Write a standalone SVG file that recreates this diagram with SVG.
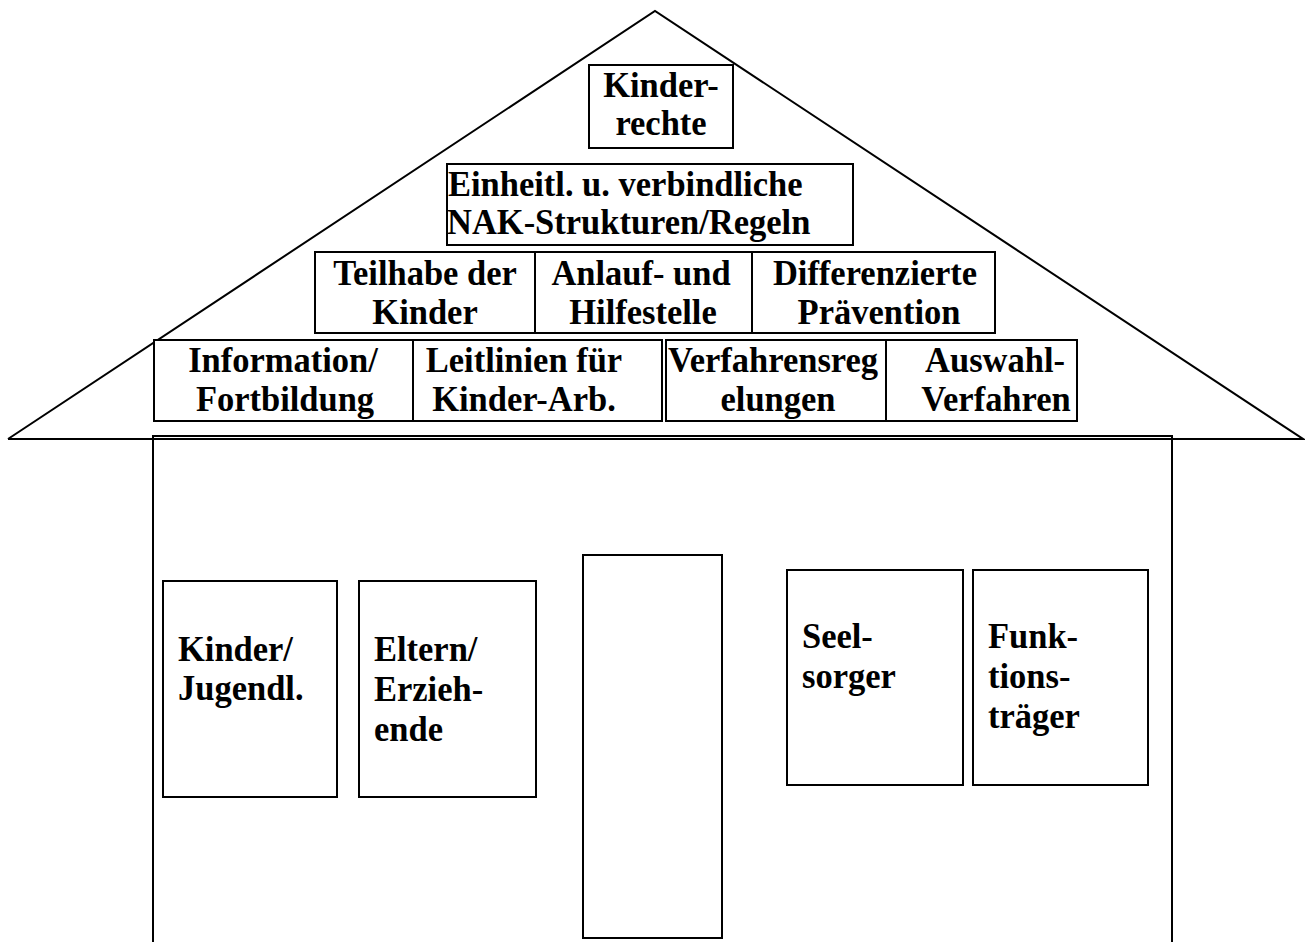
<svg xmlns="http://www.w3.org/2000/svg" width="1305" height="942" viewBox="0 0 1305 942">
<style>
.box{fill:#fff;stroke:#000;stroke-width:2}
.ln{fill:none;stroke:#000;stroke-width:2}
text{font-family:"Liberation Serif","Times New Roman",serif;font-weight:bold;font-size:36.5px;fill:#000}
.c{text-anchor:middle}
</style>
<rect width="1305" height="942" fill="#fff"/>
<g id="roof">
<polyline class="ln" points="8,439 655,11 1303,439 8,439"/>
</g>
<g id="house">
<polyline class="ln" points="153,942 153,436 1172,436 1172,942"/>
</g>
<g id="connectors"></g>
<g id="kinderrechte">
<rect class="box" x="589" y="65" width="144" height="83"/>
<text class="c" transform="translate(661,97) scale(0.945,1)">Kinder-</text>
<text class="c" transform="translate(661,135) scale(0.945,1)">rechte</text>
</g>
<g id="einheitl">
<rect class="box" x="447" y="164" width="406" height="81"/>
<text transform="translate(448,196) scale(0.945,1)">Einheitl. u. verbindliche</text>
<text transform="translate(447,234) scale(0.945,1)">NAK-Strukturen/Regeln</text>
</g>
<g id="teilhabe">
<rect class="box" x="315" y="252" width="220" height="81"/>
<text class="c" transform="translate(425,285) scale(0.945,1)">Teilhabe der</text>
<text class="c" transform="translate(425,324) scale(0.945,1)">Kinder</text>
</g>
<g id="anlauf">
<rect class="box" x="535" y="252" width="217" height="81"/>
<text class="c" transform="translate(641,285) scale(0.945,1)">Anlauf- und</text>
<text class="c" transform="translate(643,324) scale(0.945,1)">Hilfestelle</text>
</g>
<g id="praevention">
<rect class="box" x="752" y="252" width="243" height="81"/>
<text class="c" transform="translate(875,285) scale(0.945,1)">Differenzierte</text>
<text class="c" transform="translate(879,324) scale(0.945,1)">Prävention</text>
</g>
<g id="information">
<rect class="box" x="154" y="340" width="259" height="81"/>
<text class="c" transform="translate(283,372) scale(0.945,1)">Information/</text>
<text class="c" transform="translate(285,411) scale(0.945,1)">Fortbildung</text>
</g>
<g id="leitlinien">
<rect class="box" x="413" y="340" width="249" height="81"/>
<text class="c" transform="translate(524,372) scale(0.945,1)">Leitlinien für</text>
<text class="c" transform="translate(524,411) scale(0.945,1)">Kinder-Arb.</text>
</g>
<g id="verfahrensregelungen">
<rect class="box" x="666" y="340" width="220" height="81"/>
<text transform="translate(668,372) scale(0.945,1)">Verfahrensreg</text>
<text class="c" transform="translate(778,411) scale(0.945,1)">elungen</text>
</g>
<g id="auswahl">
<rect class="box" x="886" y="340" width="191" height="81"/>
<text class="c" transform="translate(995,372) scale(0.945,1)">Auswahl-</text>
<text class="c" transform="translate(996,411) scale(0.945,1)">Verfahren</text>
</g>
<g id="kinder">
<rect class="box" x="163" y="581" width="174" height="216"/>
<text transform="translate(178,661) scale(0.945,1)">Kinder/</text>
<text transform="translate(178,700) scale(0.945,1)">Jugendl.</text>
</g>
<g id="eltern">
<rect class="box" x="359" y="581" width="177" height="216"/>
<text transform="translate(374,661) scale(0.945,1)">Eltern/</text>
<text transform="translate(374,701) scale(0.945,1)">Erzieh-</text>
<text transform="translate(374,741) scale(0.945,1)">ende</text>
</g>
<g id="door">
<rect class="box" x="583" y="555" width="139" height="383"/>
</g>
<g id="seelsorger">
<rect class="box" x="787" y="570" width="176" height="215"/>
<text transform="translate(802,648) scale(0.945,1)">Seel-</text>
<text transform="translate(802,688) scale(0.945,1)">sorger</text>
</g>
<g id="funktionstraeger">
<rect class="box" x="973" y="570" width="175" height="215"/>
<text transform="translate(988,648) scale(0.945,1)">Funk-</text>
<text transform="translate(988,688) scale(0.945,1)">tions-</text>
<text transform="translate(988,728) scale(0.945,1)">träger</text>
</g>
</svg>
